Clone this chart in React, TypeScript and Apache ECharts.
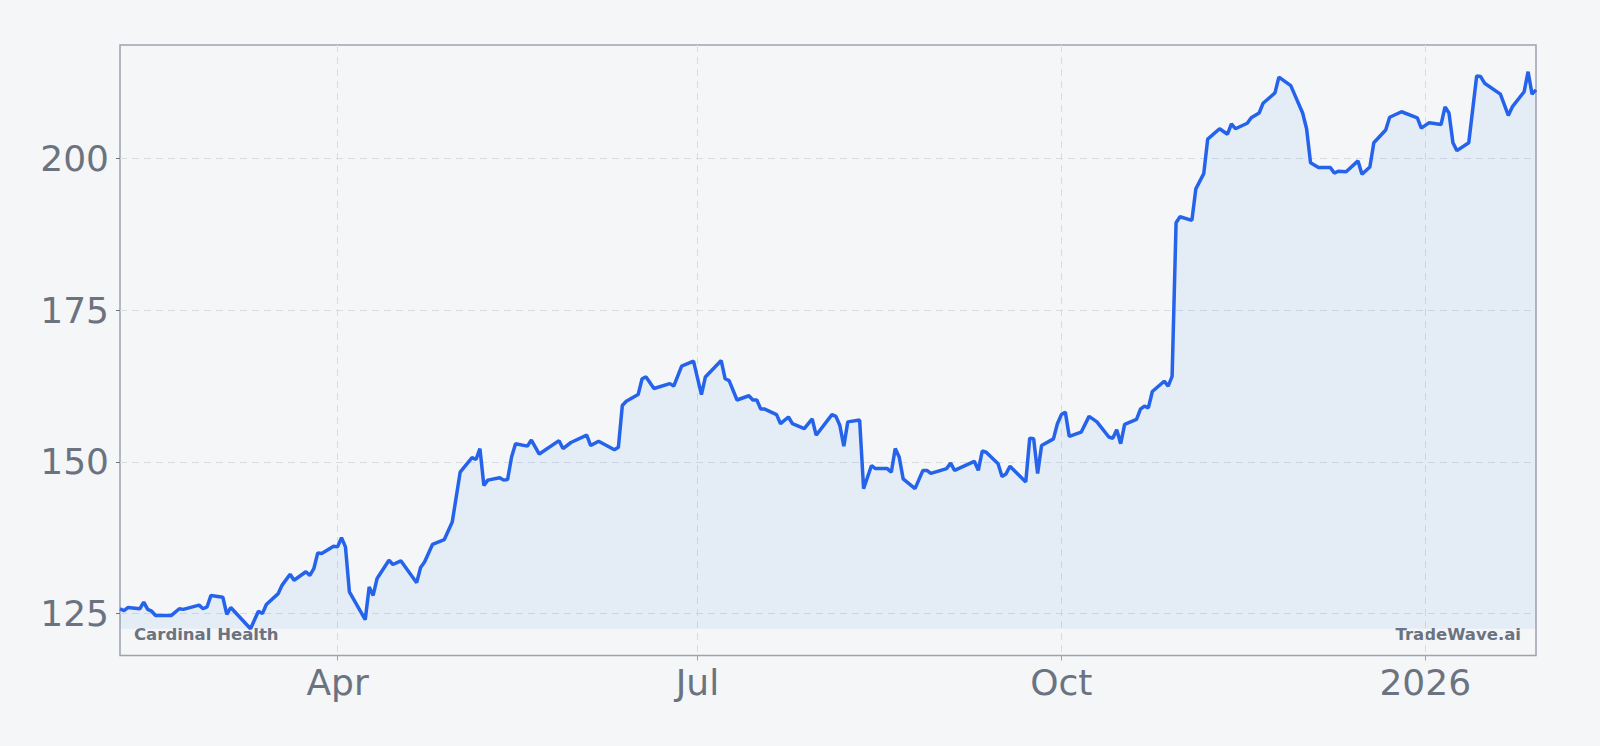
import React, { useEffect, useRef } from "react";
import * as echarts from "echarts";

const dates = [
  "2025-02-05", "2025-02-06", "2025-02-07", "2025-02-10", "2025-02-11", "2025-02-12", "2025-02-13", "2025-02-14",
  "2025-02-18", "2025-02-20", "2025-02-21", "2025-02-25", "2025-02-26", "2025-02-27", "2025-02-28",
  "2025-03-03", "2025-03-04", "2025-03-05", "2025-03-06", "2025-03-10", "2025-03-12", "2025-03-13", "2025-03-14",
  "2025-03-17", "2025-03-18", "2025-03-20", "2025-03-21", "2025-03-24", "2025-03-25", "2025-03-26", "2025-03-27",
  "2025-03-28", "2025-03-31",
  "2025-04-01", "2025-04-02", "2025-04-03", "2025-04-04", "2025-04-08", "2025-04-09", "2025-04-10", "2025-04-11",
  "2025-04-14", "2025-04-15", "2025-04-17", "2025-04-21", "2025-04-22", "2025-04-23", "2025-04-25", "2025-04-28",
  "2025-04-30",
  "2025-05-02", "2025-05-05", "2025-05-06", "2025-05-07", "2025-05-08", "2025-05-09", "2025-05-12", "2025-05-13",
  "2025-05-14", "2025-05-15", "2025-05-16", "2025-05-19", "2025-05-20", "2025-05-22", "2025-05-27", "2025-05-28",
  "2025-05-30",
  "2025-06-03", "2025-06-04", "2025-06-06", "2025-06-10", "2025-06-11", "2025-06-12", "2025-06-13", "2025-06-16",
  "2025-06-17", "2025-06-18", "2025-06-20", "2025-06-24", "2025-06-25", "2025-06-27", "2025-06-30",
  "2025-07-02", "2025-07-03", "2025-07-07", "2025-07-08", "2025-07-09", "2025-07-11", "2025-07-14", "2025-07-15",
  "2025-07-16", "2025-07-17", "2025-07-18", "2025-07-21", "2025-07-22", "2025-07-24", "2025-07-25", "2025-07-28",
  "2025-07-30", "2025-07-31",
  "2025-08-04", "2025-08-05", "2025-08-06", "2025-08-07", "2025-08-08", "2025-08-11", "2025-08-12", "2025-08-14",
  "2025-08-15", "2025-08-18", "2025-08-19", "2025-08-20", "2025-08-21", "2025-08-22", "2025-08-25", "2025-08-27",
  "2025-08-28", "2025-08-29",
  "2025-09-02", "2025-09-03", "2025-09-04", "2025-09-09", "2025-09-10", "2025-09-11", "2025-09-12", "2025-09-15",
  "2025-09-16", "2025-09-17", "2025-09-18", "2025-09-22", "2025-09-23", "2025-09-24", "2025-09-25", "2025-09-26",
  "2025-09-29", "2025-09-30",
  "2025-10-01", "2025-10-02", "2025-10-03", "2025-10-06", "2025-10-08", "2025-10-10", "2025-10-13", "2025-10-14",
  "2025-10-15", "2025-10-16", "2025-10-17", "2025-10-20", "2025-10-21", "2025-10-22", "2025-10-23", "2025-10-24",
  "2025-10-27", "2025-10-28", "2025-10-29", "2025-10-30", "2025-10-31",
  "2025-11-03", "2025-11-04", "2025-11-06", "2025-11-07", "2025-11-10", "2025-11-12", "2025-11-13", "2025-11-14",
  "2025-11-17", "2025-11-18", "2025-11-20", "2025-11-21", "2025-11-24", "2025-11-25", "2025-11-28",
  "2025-12-01", "2025-12-02", "2025-12-03", "2025-12-05", "2025-12-08", "2025-12-09", "2025-12-10", "2025-12-12",
  "2025-12-15", "2025-12-16", "2025-12-18", "2025-12-19", "2025-12-22", "2025-12-23", "2025-12-26", "2025-12-30",
  "2025-12-31",
  "2026-01-02", "2026-01-05", "2026-01-06", "2026-01-07", "2026-01-08", "2026-01-09", "2026-01-12", "2026-01-14",
  "2026-01-15", "2026-01-16", "2026-01-20", "2026-01-22", "2026-01-23", "2026-01-26", "2026-01-27", "2026-01-28",
  "2026-01-29",
];

const prices = [
  125.8, 125.5, 126.0, 125.8, 126.9, 125.7, 125.4, 124.7,
  124.7, 125.8, 125.7, 126.4, 125.8, 126.1, 128.0,
  127.7, 124.9, 126.0, 125.3, 122.5, 125.4, 125.0, 126.5,
  128.3, 129.7, 131.5, 130.5, 131.9, 131.3, 132.4, 135.0,
  134.9, 136.1,
  136.0, 137.5, 136.0, 128.6, 124.0, 129.4, 128.0, 130.8,
  133.8, 133.1, 133.7, 130.1, 132.6, 133.5, 136.4, 137.2,
  140.1,
  148.3, 150.7, 150.4, 152.2, 146.1, 147.0, 147.4, 147.0,
  147.1, 150.8, 153.0, 152.6, 153.6, 151.3, 153.5, 152.2,
  153.2,
  154.4, 152.7, 153.4, 152.0, 152.4, 159.3, 160.0, 161.1,
  163.7, 164.0, 162.1, 162.9, 162.5, 165.8, 166.6,
  161.1, 164.0, 166.7, 163.7, 163.4, 160.2, 160.9, 160.2,
  160.2, 158.7, 158.7, 157.8, 156.3, 157.4, 156.3, 155.5,
  157.1, 154.4,
  157.8, 157.5, 156.0, 152.6, 156.6, 156.9, 145.6, 149.4,
  148.9, 148.9, 148.3, 152.2, 150.8, 147.2, 145.6, 148.6,
  148.6, 148.1,
  148.9, 149.8, 148.6, 150.1, 148.6, 151.8, 151.6, 149.7,
  147.6, 148.0, 149.3, 146.7, 153.9, 153.8, 148.1, 152.7,
  153.8, 156.3,
  157.8, 158.2, 154.2, 154.9, 157.5, 156.6, 154.1, 153.9,
  155.3, 153.0, 156.2, 157.0, 158.7, 159.2, 158.9, 161.6,
  163.3, 162.5, 164.1, 189.4, 190.4,
  189.8, 195.0, 197.5, 203.2, 204.9, 204.0, 205.7, 204.9,
  205.8, 206.7, 207.5, 209.1, 210.8, 213.4, 212.0,
  207.5, 204.9, 199.3, 198.5, 198.5, 197.6, 197.9, 197.8,
  199.6, 197.4, 198.6, 202.6, 204.7, 206.8, 207.7, 206.7,
  205.0,
  205.9, 205.6, 208.5, 207.5, 202.6, 201.3, 202.6, 213.6,
  213.5, 212.4, 210.6, 207.1, 208.5, 211.0, 214.3, 210.6,
  211.3,
];

const yTicks = [125, 150, 175, 200];
const xTicks = ["2025-04-01", "2025-07-01", "2025-10-01", "2026-01-01"];
const monthNames = ["Jan", "Feb", "Mar", "Apr", "May", "Jun", "Jul", "Aug", "Sep", "Oct", "Nov", "Dec"];

const toTime = (s: string) => {
  const [y, m, d] = s.split("-").map(Number);
  return new Date(y, m - 1, d).getTime();
};

const App = function () {
  const chart = useRef<HTMLDivElement>(null);
  useEffect(() => {
    if (!chart.current) return;
    const myChart = echarts.init(chart.current, null, { renderer: "svg" });
    const times = dates.map(toTime);
    const data = times.map((t, i) => [t, prices[i]]);
    const lowest = Math.min(...prices);
    const tickTimes = xTicks.map(toTime);
    const labelFont = { color: "#6b7280", fontSize: 36, fontFamily: "DejaVu Sans" };
    const dashed = { color: "#d7dce2", width: 1, type: [7, 5] as number[] };
    const option = {
      animation: false,
      backgroundColor: "#f4f6f8",
      grid: {
        left: 120,
        right: 64,
        top: 45,
        bottom: 90.5,
        show: true,
        borderColor: "#9ca3af",
        borderWidth: 1.5,
        outerBoundsMode: "none",
      },
      xAxis: {
        type: "value",
        min: times[0],
        max: times[times.length - 1],
        axisLine: { show: false },
        axisTick: { show: true, length: 5, customValues: tickTimes, lineStyle: { color: "#9ca3af" } },
        axisLabel: {
          ...labelFont,
          margin: 9,
          customValues: tickTimes,
          formatter: (v: number) => {
            const d = new Date(v);
            return d.getMonth() === 0 ? String(d.getFullYear()) : monthNames[d.getMonth()];
          },
        },
        splitLine: { show: true, lineStyle: dashed },
      },
      yAxis: {
        type: "value",
        min: 118.1,
        max: 218.7,
        axisLine: { show: false },
        axisTick: { show: true, length: 4, customValues: yTicks, lineStyle: { color: "#6b7280" } },
        axisLabel: { ...labelFont, margin: 11, customValues: yTicks },
        splitLine: { show: true, lineStyle: dashed },
      },
      graphic: [
        {
          type: "text",
          x: 134,
          y: 634,
          style: {
            text: "Cardinal Health",
            font: 'bold 16.5px "DejaVu Sans"',
            fill: "#6b7280",
            textAlign: "left",
            textVerticalAlign: "middle",
          },
        },
        {
          type: "text",
          x: 1521,
          y: 634,
          style: {
            text: "TradeWave.ai",
            font: 'bold 16.5px "DejaVu Sans"',
            fill: "#6b7280",
            textAlign: "right",
            textVerticalAlign: "middle",
          },
        },
      ],
      series: [
        {
          name: "Cardinal Health",
          type: "line",
          data: data,
          symbol: "none",
          lineStyle: { color: "#2563eb", width: 3.5 },
          itemStyle: { color: "#2563eb" },
          areaStyle: { color: "rgba(96, 155, 232, 0.15)", origin: lowest },
        },
      ],
    };
    myChart.setOption(option as any);
    return () => {
      myChart.dispose();
    };
  }, []);
  return (
    <div
      style={{ position: "fixed", left: 0, top: 0, width: "100vw", height: "100vh", background: "#f4f6f8" }}
    >
      <div ref={chart} style={{ width: "100%", height: "100%" }}></div>
    </div>
  );
};

export default App;
